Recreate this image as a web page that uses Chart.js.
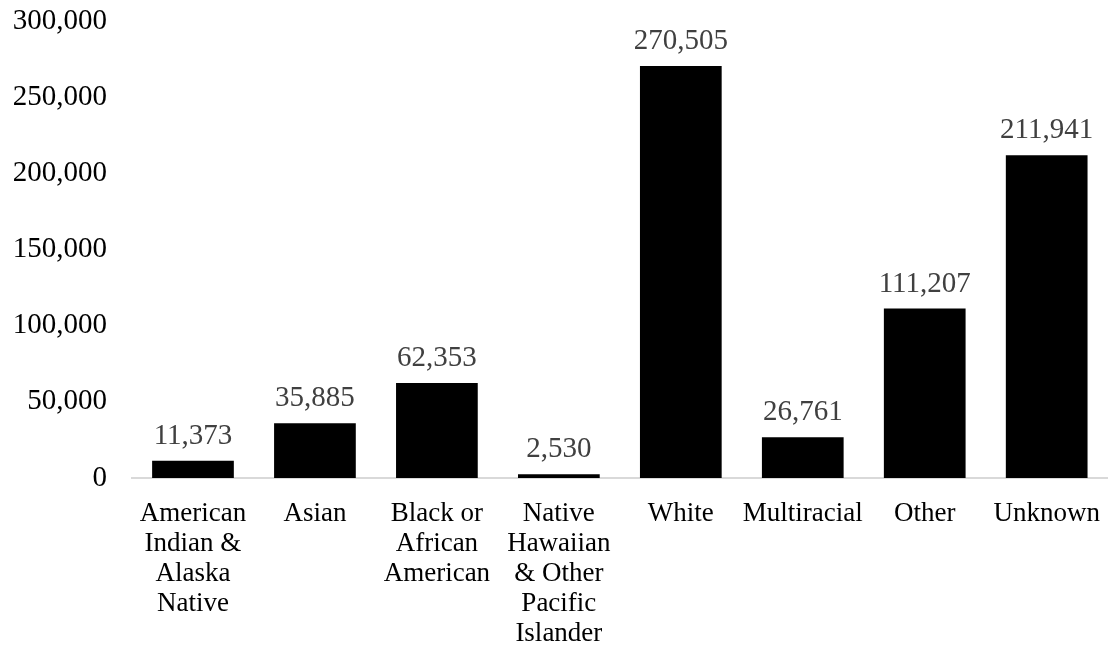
<!DOCTYPE html>
<html>
<head>
<meta charset="utf-8">
<script src="https://cdn.jsdelivr.net/npm/chart.js@4"></script>
<style>
  html, body { margin: 0; padding: 0; background: #fff; }
  #wrap { width: 1113px; height: 647px; position: relative; }
</style>
</head>
<body>
<div id="wrap"><canvas id="races"></canvas></div>
<script>
const categories = [
    ["American", "Indian &", "Alaska", "Native"],
    ["Asian"],
    ["Black or", "African", "American"],
    ["Native", "Hawaiian", "& Other", "Pacific", "Islander"],
    ["White"],
    ["Multiracial"],
    ["Other"],
    ["Unknown"]
];
const counts = [11373, 35885, 62353, 2530, 270505, 26761, 111207, 211941];
const yTicks = [0, 50000, 100000, 150000, 200000, 250000, 300000];

const serif = "'Liberation Serif', 'Times New Roman', serif";
const fmt = v => v.toLocaleString("en-US");

// values above each bar
const barLabels = {
    id: "barLabels",
    afterDatasetsDraw(chart) {
        const ctx = chart.ctx;
        const meta = chart.getDatasetMeta(0);
        ctx.save();
        ctx.font = "29px " + serif;
        ctx.fillStyle = "#404040";
        ctx.textAlign = "center";
        ctx.textBaseline = "alphabetic";
        meta.data.forEach((bar, i) => {
            ctx.fillText(fmt(counts[i]), bar.x, bar.y - 17);
        });
        ctx.restore();
    }
};

new Chart(document.getElementById("races"), {
    type: "bar",
    plugins: [barLabels],
    data: {
        labels: categories,
        datasets: [{
            data: counts,
            backgroundColor: "#000000",
            borderWidth: 0,
            barPercentage: 0.67,
            categoryPercentage: 1
        }]
    },
    options: {
        responsive: true,
        maintainAspectRatio: false,
        animation: false,
        layout: { padding: { top: 0, right: 1, bottom: 0, left: 0 } },
        plugins: {
            legend: { display: false },
            tooltip: { enabled: false }
        },
        scales: {
            x: {
                grid: { display: false },
                border: { display: true, color: "#d9d9d9", width: 2 },
                ticks: {
                    color: "#000",
                    padding: 13,
                    maxRotation: 0,
                    autoSkip: false,
                    font: { family: serif, size: 27, lineHeight: 1.11 }
                },
                afterFit: s => { s.height = 169; }
            },
            y: {
                min: 0,
                max: 300000,
                afterBuildTicks: s => { s.ticks = yTicks.map(v => ({ value: v })); },
                grid: { display: false },
                border: { display: false },
                ticks: {
                    color: "#000",
                    padding: 17,
                    callback: v => fmt(v),
                    font: { family: serif, size: 29 }
                },
                afterFit: s => {
                    s.width = 132;
                    s.paddingTop = 21;
                    s.paddingBottom = 0;
                }
            }
        }
    }
});
</script>
</body>
</html>
